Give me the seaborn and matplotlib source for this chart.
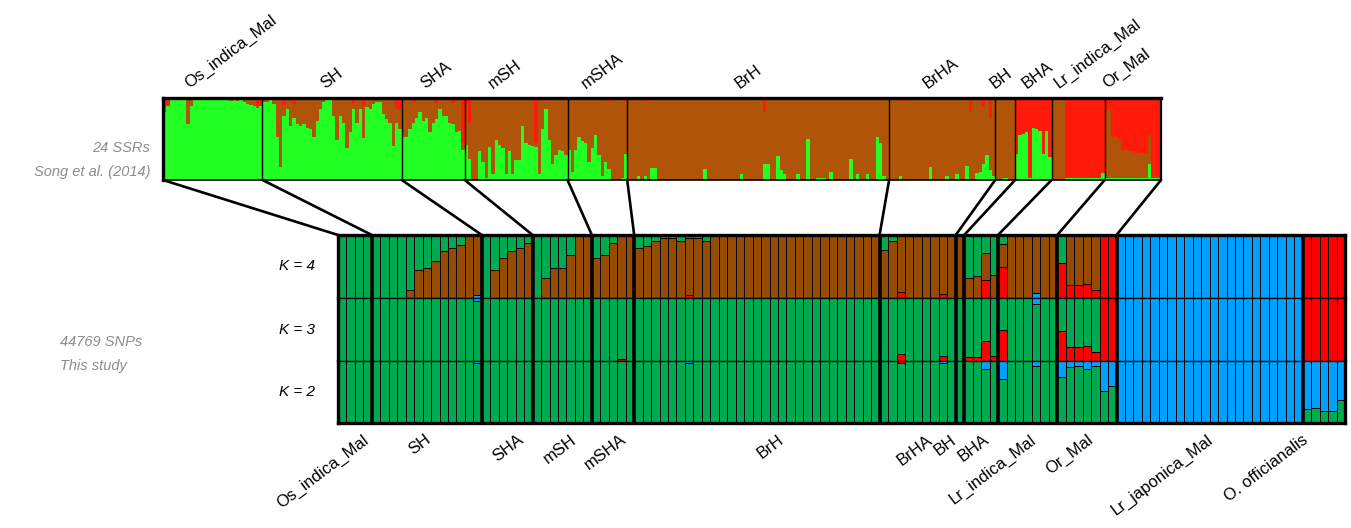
import numpy as np
import matplotlib
matplotlib.use("Agg")
import matplotlib.pyplot as plt
import matplotlib.transforms as mtransforms
from matplotlib.patches import ConnectionPatch
import seaborn as sns

sns.set_theme(style="white")
plt.rcParams["font.family"] = ["Liberation Sans", "DejaVu Sans"]

# ---------------- data: top panel (24 SSRs, Song et al. 2014) ----------------
top_groups = ["Os_indica_Mal", "SH", "SHA", "mSH", "mSHA", "BrH", "BrHA", "BH", "BHA",
              "Lr_indica_Mal", "Or_Mal"]
top_green = [
    # Os_indica_Mal (30)
    [0.83, 0.90, 0.97, 1.00, 1.00, 1.00, 1.00, 0.68, 0.90, 0.97,
     1.00, 1.00, 1.00, 1.00, 1.00, 1.00, 1.00, 1.00, 1.00, 1.00,
     0.96, 0.97, 0.96, 1.00, 0.95, 0.93, 0.91, 0.90, 0.88, 0.90],
    # SH (42)
    [0.95, 0.95, 0.97, 0.93, 0.53, 0.16, 0.78, 0.87, 0.66, 0.76,
     0.68, 0.66, 0.68, 0.64, 0.62, 0.53, 0.72, 0.87, 0.95, 0.97,
     0.99, 0.78, 0.49, 0.78, 0.70, 0.39, 0.58, 0.87, 0.70, 0.87,
     0.51, 0.89, 0.87, 0.93, 0.95, 0.95, 0.80, 0.74, 0.70, 0.41,
     0.70, 0.62],
    # SHA (19)
    [0.53, 0.53, 0.62, 0.70, 0.76, 0.83, 0.72, 0.76, 0.58, 0.70,
     0.74, 0.87, 0.78, 0.78, 0.70, 0.68, 0.58, 0.60, 0.37],
    # mSH (31)
    [0.43, 0.26, 0.00, 0.00, 0.35, 0.22, 0.02, 0.40, 0.07, 0.49,
     0.43, 0.39, 0.07, 0.35, 0.07, 0.24, 0.24, 0.66, 0.45, 0.43,
     0.41, 0.40, 0.07, 0.62, 0.87, 0.49, 0.20, 0.30, 0.37, 0.35,
     0.30],
    # mSHA (18)
    [0.37, 0.10, 0.37, 0.53, 0.47, 0.45, 0.22, 0.39, 0.55, 0.30,
     0.05, 0.22, 0.14, 0.00, 0.00, 0.00, 0.02, 0.32],
    # BrH (79)
    [0, 0, 0, 0.05, 0, 0.05, 0, 0.15, 0.15, 0,
     0, 0, 0, 0, 0, 0, 0, 0, 0, 0,
     0, 0, 0, 0.14, 0, 0, 0, 0, 0, 0,
     0, 0, 0, 0, 0.07, 0, 0, 0, 0, 0,
     0, 0.19, 0.19, 0, 0, 0.29, 0.12, 0.07, 0, 0,
     0, 0.07, 0, 0, 0.50, 0, 0, 0.03, 0.03, 0.03,
     0, 0.10, 0, 0, 0, 0, 0, 0.26, 0, 0.07,
     0, 0, 0.07, 0, 0, 0.53, 0.45, 0.05, 0],
    # BrHA (32)
    [0, 0, 0, 0.05, 0, 0, 0, 0, 0, 0,
     0, 0, 0.16, 0, 0, 0, 0, 0.05, 0, 0,
     0.07, 0, 0, 0.17, 0, 0, 0.08, 0.10, 0.20, 0.30,
     0.12, 0.05],
    # BH (6)
    [0, 0, 0.02, 0.02, 0, 0],
    # BHA (11)
    [0.32, 0.55, 0.56, 0.58, 0.03, 0.63, 0.62, 0.60, 0.32, 0.60, 0.28],
    # Lr_indica_Mal (16)
    [0, 0, 0, 0, 0.03, 0.03, 0.03, 0.03, 0.03, 0.03,
     0.03, 0.03, 0.03, 0.03, 0.03, 0.08],
    # Or_Mal (17)
    [0.03, 0.03, 0.03, 0.03, 0.03, 0.03, 0.03, 0.03, 0.03, 0.03,
     0.03, 0.03, 0.03, 0.19, 0.02, 0.02, 0.02],
]
top_red = [
    [0.12, 0.08, 0.03, 0, 0, 0, 0, 0, 0, 0,
     0, 0, 0, 0, 0, 0, 0, 0, 0, 0,
     0, 0, 0, 0, 0, 0, 0, 0, 0.08, 0.10],
    [0, 0, 0, 0, 0, 0, 0.09, 0, 0, 0.07,
     0, 0, 0, 0, 0, 0, 0, 0, 0, 0,
     0, 0, 0, 0, 0, 0, 0, 0.06, 0, 0,
     0.08, 0, 0, 0, 0, 0, 0, 0, 0, 0,
     0.12, 0.15],
    [0, 0, 0, 0.05, 0, 0, 0, 0, 0, 0,
     0.06, 0, 0, 0, 0, 0.06, 0, 0, 0.55],
    [0.07, 0.30, 0, 0, 0, 0, 0, 0, 0, 0,
     0, 0, 0, 0, 0, 0, 0, 0, 0, 0,
     0, 0.55, 0, 0, 0, 0, 0, 0, 0, 0,
     0],
    [0, 0, 0, 0, 0, 0, 0, 0, 0, 0,
     0, 0, 0.04, 0, 0, 0, 0, 0.04],
    [0, 0, 0, 0, 0, 0.04, 0, 0, 0, 0,
     0.03, 0, 0, 0, 0, 0, 0, 0, 0, 0,
     0, 0, 0, 0, 0, 0, 0, 0, 0, 0,
     0, 0, 0, 0, 0, 0, 0, 0, 0, 0,
     0, 0.17, 0, 0, 0.03, 0, 0, 0, 0, 0,
     0, 0, 0.03, 0, 0, 0, 0, 0, 0, 0,
     0, 0, 0, 0, 0, 0, 0.03, 0, 0, 0,
     0, 0, 0, 0, 0, 0, 0, 0, 0],
    [0, 0, 0, 0.03, 0.04, 0, 0, 0, 0, 0,
     0, 0, 0, 0, 0, 0, 0, 0, 0, 0,
     0, 0, 0, 0, 0.17, 0, 0, 0, 0.10, 0,
     0.25, 0],
    [0, 0, 0.03, 0.03, 0, 0],
    [0.68, 0.45, 0.44, 0.42, 0.97, 0.37, 0.38, 0.40, 0.68, 0.40, 0.72],
    [0.03, 0, 0, 0, 0.97, 0.97, 0.97, 0.97, 0.97, 0.97,
     0.97, 0.97, 0.97, 0.97, 0.97, 0.92],
    [0.13, 0.15, 0.47, 0.47, 0.50, 0.63, 0.63, 0.65, 0.65, 0.67,
     0.67, 0.67, 0.67, 0.45, 0.95, 0.96, 0.96],
]

# ---------------- data: bottom panel (44769 SNPs, this study) ----------------
bottom_groups = ["Os_indica_Mal", "SH", "SHA", "mSH", "mSHA", "BrH", "BrHA", "BH", "BHA",
                 "Lr_indica_Mal", "Or_Mal", "Lr_japonica_Mal", "O. officianalis"]

Z20 = [0, 0, 0, 0, 0, 0, 0, 0, 0, 0, 0, 0, 0, 0, 0, 0, 0, 0, 0, 0]
ONE22 = [1, 1, 1, 1, 1, 1, 1, 1, 1, 1, 1, 1, 1, 1, 1, 1, 1, 1, 1, 1, 1, 1]
ZERO22 = [0, 0, 0, 0, 0, 0, 0, 0, 0, 0, 0, 0, 0, 0, 0, 0, 0, 0, 0, 0, 0, 0]

# K = 4 (bottom -> top: blue, red, brown, green = remainder)
k4_blue = [[0, 0, 0, 0], [0, 0, 0, 0, 0, 0, 0, 0, 0, 0, 0, 0, 0.04], [0, 0, 0, 0, 0, 0],
           [0, 0, 0, 0, 0, 0, 0], [0, 0, 0, 0, 0], [0, 0, 0, 0, 0, 0, 0, 0, 0] + Z20,
           [0, 0, 0, 0, 0, 0, 0, 0, 0], [0], [0, 0, 0, 0], [0, 0, 0, 0, 0.08, 0, 0],
           [0, 0, 0, 0, 0, 0, 0], ONE22, [0, 0, 0, 0, 0]]
k4_red = [[0, 0, 0, 0], [0, 0, 0, 0, 0, 0, 0, 0, 0, 0, 0, 0, 0], [0, 0, 0, 0, 0, 0],
          [0, 0, 0, 0, 0, 0, 0], [0, 0, 0, 0, 0], [0, 0, 0, 0, 0, 0, 0.04, 0, 0] + Z20,
          [0, 0, 0.10, 0, 0, 0, 0, 0.06, 0], [0], [0, 0, 0.29, 0], [0.49, 0, 0, 0, 0, 0, 0],
          [0.55, 0.20, 0.20, 0.22, 0.12, 1, 1], ZERO22, [1, 1, 1, 1, 1]]
k4_brown = [[0, 0, 0, 0],
            [0, 0, 0, 0, 0.12, 0.44, 0.48, 0.59, 0.74, 0.79, 0.84, 1.0, 0.96],
            [0, 0.44, 0.64, 0.74, 0.79, 0.88],
            [0, 0.32, 0.47, 0.48, 0.68, 1.0, 1.0],
            [0.63, 0.68, 0.87, 1.0, 1.0],
            [0.79, 0.83, 0.91, 0.95, 0.95, 0.90, 0.91, 0.95, 0.91,
             1, 1, 1, 1, 1, 1, 1, 1, 1, 1, 1, 1, 1, 1, 1, 1, 1, 1, 1, 1],
            [0.76, 0.90, 0.90, 1, 1, 1, 1, 0.94, 1],
            [1],
            [0.32, 0.35, 0.43, 0.37],
            [0.36, 1, 1, 1, 0.92, 1, 1],
            [0, 0.80, 0.80, 0.78, 0.88, 0, 0],
            ZERO22,
            [0, 0, 0, 0, 0]]
# K = 3 (bottom -> top: red, green = remainder, blue)
k3_red = [[0, 0, 0, 0], [0, 0, 0, 0, 0, 0, 0, 0, 0, 0, 0, 0, 0], [0, 0, 0, 0, 0, 0],
          [0, 0, 0, 0, 0, 0, 0], [0, 0, 0, 0.03, 0], [0, 0, 0, 0, 0, 0, 0, 0, 0] + Z20,
          [0, 0, 0.11, 0, 0, 0, 0, 0.08, 0], [0], [0.06, 0.06, 0.31, 0.08],
          [0.50, 0, 0, 0, 0, 0, 0], [0.47, 0.23, 0.23, 0.24, 0.14, 1, 1], ZERO22,
          [1, 1, 1, 1, 1]]
k3_blue = [[0, 0, 0, 0], [0, 0, 0, 0, 0, 0, 0, 0, 0, 0, 0, 0, 0.05], [0, 0, 0, 0, 0, 0],
           [0, 0, 0, 0, 0, 0, 0], [0, 0, 0, 0, 0], [0, 0, 0, 0, 0, 0, 0, 0, 0] + Z20,
           [0, 0, 0, 0, 0, 0, 0, 0, 0], [0], [0, 0, 0, 0], [0, 0, 0, 0, 0.09, 0, 0],
           [0, 0, 0, 0, 0, 0, 0], ONE22, [0, 0, 0, 0, 0]]
# K = 2 (bottom -> top: green = remainder, blue, red)
k2_blue = [[0, 0, 0, 0], [0, 0, 0, 0, 0, 0, 0, 0, 0, 0, 0, 0, 0.04], [0, 0, 0, 0, 0, 0],
           [0, 0, 0, 0, 0, 0, 0], [0, 0, 0, 0, 0], [0, 0, 0, 0, 0, 0, 0.03, 0, 0] + Z20,
           [0, 0, 0, 0, 0, 0, 0, 0.04, 0], [0], [0, 0, 0.13, 0], [0.29, 0, 0, 0, 0.08, 0, 0],
           [0.26, 0.10, 0.08, 0.13, 0.08, 0.48, 0.40], ONE22, [0.78, 0.75, 0.80, 0.80, 0.63]]
k2_red = [[0, 0, 0, 0], [0, 0, 0, 0, 0, 0, 0, 0, 0, 0, 0, 0, 0], [0, 0, 0, 0, 0, 0],
          [0, 0, 0, 0, 0, 0, 0], [0, 0, 0, 0, 0], [0, 0, 0, 0, 0, 0, 0, 0, 0] + Z20,
          [0, 0, 0.04, 0, 0, 0, 0, 0, 0], [0], [0, 0, 0, 0], [0, 0, 0, 0, 0, 0, 0],
          [0, 0, 0, 0, 0, 0, 0], ZERO22, [0, 0, 0, 0, 0]]

# ---------------- style ----------------
W, H = 1351, 528
C_TOP = {"green": "#22ff22", "brown": "#b0540a", "red": "#ff1a0a"}
C_BOT = {"green": "#00aa50", "brown": "#964b05", "red": "#ff0000", "blue": "#00a0ff"}
GRAY = "#8c8c8c"
LABEL_FS = 12
SIDE_FS = 10.5
K_FS = 11
ROT = 37
top_label_nudge = [-21, -5, -6, -21, -10, -17, -13, -9, -5, -17, -24]
bottom_label_nudge = [7, -2, 10, 8, 7, 20, 9, -10, 2, 2, 0, -3, -22]


def flat(groups):
    return np.concatenate([np.asarray(g, dtype=float) for g in groups])


def stacked(ax, layers, colors, edge=None, lw=0.0, aa=True):
    cum = np.cumsum(np.vstack(layers), axis=0)
    n = cum.shape[1]
    x = np.arange(n)
    for k in range(cum.shape[0] - 1, -1, -1):
        sns.barplot(x=x, y=cum[k], color=colors[k], width=1.0, saturation=1,
                    edgecolor=edge if edge is not None else colors[k], linewidth=lw,
                    errorbar=None, native_scale=True, ax=ax, antialiased=aa)
    ax.set_xlim(-0.5, n - 0.5)
    ax.set_ylim(0, 1)
    ax.set_xticks([])
    ax.set_yticks([])
    ax.set_xlabel("")
    ax.set_ylabel("")
    return n


fig = plt.figure(figsize=(W / 100, H / 100), dpi=100)


def px_axes(x0, y0, x1, y1):
    return fig.add_axes([x0 / W, 1 - y1 / H, (x1 - x0) / W, (y1 - y0) / H])


# ---- top panel ----
ax_top = px_axes(163, 98, 1161, 180)
tg = flat(top_green)
tr = flat(top_red)
tb = np.clip(1 - tg - tr, 0, 1)
stacked(ax_top, [tg, tb, tr], [C_TOP["green"], C_TOP["brown"], C_TOP["red"]], lw=0, aa=False)
top_sizes = [len(g) for g in top_green]
top_bounds = np.concatenate([[0], np.cumsum(top_sizes)])
for b in top_bounds[1:-1]:
    ax_top.axvline(b - 0.5, color="black", lw=1.0, zorder=3)
for side, lw in [("top", 2.4), ("left", 2.4), ("bottom", 1.2), ("right", 1.6)]:
    ax_top.spines[side].set_visible(True)
    ax_top.spines[side].set_color("black")
    ax_top.spines[side].set_linewidth(lw)

for i, name in enumerate(top_groups):
    cx = (top_bounds[i] + top_bounds[i + 1]) / 2 - 0.5
    tr_ = mtransforms.blended_transform_factory(ax_top.transData, ax_top.transAxes)
    tr_ = mtransforms.offset_copy(tr_, fig=fig, x=top_label_nudge[i], y=7, units="dots")
    ax_top.text(cx, 1.0, name, transform=tr_, rotation=ROT, rotation_mode="anchor",
                ha="left", va="bottom", fontsize=LABEL_FS, color="black")

# ---- bottom panel: three K rows ----
row_px = [(235, 298), (298, 361), (361, 423)]
ax_k4 = px_axes(338, row_px[0][0], 1345, row_px[0][1])
ax_k3 = px_axes(338, row_px[1][0], 1345, row_px[1][1])
ax_k2 = px_axes(338, row_px[2][0], 1345, row_px[2][1])

b4, r4, br4 = flat(k4_blue), flat(k4_red), flat(k4_brown)
g4 = np.clip(1 - b4 - r4 - br4, 0, 1)
stacked(ax_k4, [b4, r4, br4, g4],
        [C_BOT["blue"], C_BOT["red"], C_BOT["brown"], C_BOT["green"]], edge="black", lw=0.7)
r3, bl3 = flat(k3_red), flat(k3_blue)
g3 = np.clip(1 - r3 - bl3, 0, 1)
stacked(ax_k3, [r3, g3, bl3], [C_BOT["red"], C_BOT["green"], C_BOT["blue"]], edge="black", lw=0.7)
bl2, r2 = flat(k2_blue), flat(k2_red)
g2 = np.clip(1 - bl2 - r2, 0, 1)
stacked(ax_k2, [g2, bl2, r2], [C_BOT["green"], C_BOT["blue"], C_BOT["red"]], edge="black", lw=0.7)

bot_sizes = [len(g) for g in k4_brown]
bot_bounds = np.concatenate([[0], np.cumsum(bot_sizes)])
for ax in (ax_k4, ax_k3, ax_k2):
    for b in bot_bounds[1:-1]:
        ax.axvline(b - 0.5, color="black", lw=2.6, zorder=3)
    for side in ("top", "bottom", "left", "right"):
        ax.spines[side].set_visible(True)
        ax.spines[side].set_color("black")
        ax.spines[side].set_linewidth(0.9)
    ax.spines["left"].set_linewidth(2.4)
    ax.spines["right"].set_linewidth(2.4)
ax_k4.spines["top"].set_linewidth(2.4)
ax_k2.spines["bottom"].set_linewidth(2.4)

for ax, lab in [(ax_k4, "K = 4"), (ax_k3, "K = 3"), (ax_k2, "K = 2")]:
    ax.annotate(lab, xy=(0, 0.5), xycoords="axes fraction", xytext=(-23, 0),
                textcoords="offset pixels", ha="right", va="center",
                fontsize=K_FS, style="italic", color="black")

for i, name in enumerate(bottom_groups):
    cx = (bot_bounds[i] + bot_bounds[i + 1]) / 2 - 0.5
    tr_ = mtransforms.blended_transform_factory(ax_k2.transData, ax_k2.transAxes)
    tr_ = mtransforms.offset_copy(tr_, fig=fig, x=bottom_label_nudge[i], y=-9, units="dots")
    ax_k2.text(cx, 0.0, name, transform=tr_, rotation=ROT, rotation_mode="anchor",
               ha="right", va="top", fontsize=LABEL_FS, color="black")

# ---- connectors between panels ----
for i in range(len(top_bounds)):
    con = ConnectionPatch(xyA=(top_bounds[i] - 0.5, 0), coordsA=ax_top.transData,
                          xyB=(bot_bounds[i] - 0.5, 1), coordsB=ax_k4.transData,
                          color="black", lw=1.9)
    fig.add_artist(con)

# ---- side annotations ----
fig.text(150 / W, 1 - 148 / H, "24 SSRs", ha="right", va="center",
         fontsize=SIDE_FS, style="italic", color=GRAY)
fig.text(150 / W, 1 - 172 / H, "Song et al. (2014)", ha="right", va="center",
         fontsize=SIDE_FS, style="italic", color=GRAY)
fig.text(60 / W, 1 - 342 / H, "44769 SNPs", ha="left", va="center",
         fontsize=SIDE_FS, style="italic", color=GRAY)
fig.text(60 / W, 1 - 366 / H, "This study", ha="left", va="center",
         fontsize=SIDE_FS, style="italic", color=GRAY)

fig.savefig("out.png", dpi=100)
